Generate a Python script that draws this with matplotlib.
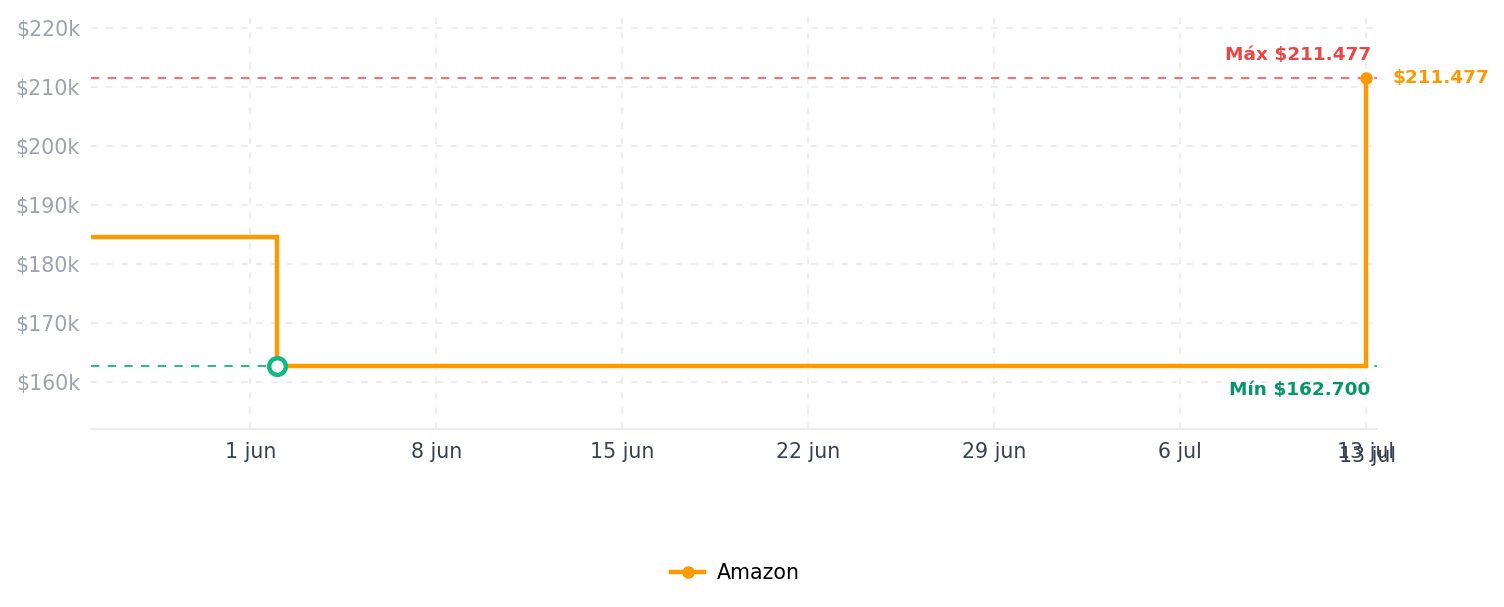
import matplotlib
matplotlib.use("Agg")
import matplotlib.pyplot as plt
import matplotlib.dates as mdates
import matplotlib.transforms as mtransforms
from datetime import datetime

# data
dates = [datetime(2025, 5, 26), datetime(2025, 6, 2), datetime(2025, 7, 13)]
prices = [184500, 162700, 211477]
tick_dates = [datetime(2025, 6, 1), datetime(2025, 6, 8), datetime(2025, 6, 15),
              datetime(2025, 6, 22), datetime(2025, 6, 29), datetime(2025, 7, 6),
              datetime(2025, 7, 13)]
tick_labels = ["1 jun", "8 jun", "15 jun", "22 jun", "29 jun", "6 jul", "13 jul"]
y_ticks = [160000, 170000, 180000, 190000, 200000, 210000, 220000]
y_labels = ["$160k", "$170k", "$180k", "$190k", "$200k", "$210k", "$220k"]

orange = "#ff9900"
max_v = max(prices)
min_v = min(prices)
i_min = prices.index(min_v)
i_max = prices.index(max_v)

fig = plt.figure(figsize=(15.04, 6.07), dpi=100)
ax = fig.add_axes([0.0605, 0.2932, 0.855, 0.682])

ax.axhline(max_v, color="#f87171", lw=1.5, ls=(0, (4, 4)), zorder=2)
ax.axhline(min_v, color="#34b98a", lw=1.5, ls=(0, (4, 4)), zorder=2)

ax.plot(dates, prices, drawstyle="steps-post", color=orange, lw=3.2, zorder=3,
        label="Amazon", marker="o", markersize=8, markevery=[len(dates) - 1],
        solid_joinstyle="miter")
ax.plot([dates[i_min]], [min_v], "o", ms=12, mfc="white", mec="#10b981", mew=3.2, zorder=4)

ax.set_xlim(datetime(2025, 5, 26), mdates.num2date(mdates.date2num(datetime(2025, 6, 1)) + 42.42))
ax.set_ylim(152000, 222200)

ax.set_xticks(tick_dates)
ax.set_xticklabels(tick_labels)
ax.set_yticks(y_ticks)
ax.set_yticklabels(y_labels)
ax.tick_params(axis="x", length=0, pad=9, labelsize=14.8, labelcolor="#374151")
ax.tick_params(axis="y", length=0, pad=8, labelsize=14.8, labelcolor="#9ca3af")

ax.grid(True, color="#ebebeb", ls=(0, (4, 5)), lw=1.2)
ax.set_axisbelow(True)
for s in ["top", "right", "left"]:
    ax.spines[s].set_visible(False)
ax.spines["bottom"].set_color("#e5e7eb")
ax.spines["bottom"].set_linewidth(1.2)

# duplicated last tick label, slightly offset
trans = mtransforms.blended_transform_factory(ax.transData, ax.transAxes)
off = mtransforms.ScaledTranslation(2 / 100, -16.5 / 100, fig.dpi_scale_trans)
ax.text(tick_dates[-1], 0, "13 jul", transform=trans + off, ha="center", va="top",
        fontsize=14.8, color="#374151")

# annotations
ax.text(dates[i_max], max_v, "Máx $211.477",
        transform=ax.transData + mtransforms.ScaledTranslation(0.05, 0.14, fig.dpi_scale_trans),
        ha="right", va="bottom", color="#ef4444", fontsize=13.3, fontweight="bold")
ax.text(dates[i_max], min_v, "Mín $162.700",
        transform=ax.transData + mtransforms.ScaledTranslation(0.05, -0.15, fig.dpi_scale_trans),
        ha="right", va="top", color="#059669", fontsize=13.3, fontweight="bold")
ax.text(dates[i_max], max_v, "$211.477",
        transform=ax.transData + mtransforms.ScaledTranslation(0.27, 0, fig.dpi_scale_trans),
        ha="left", va="center", color=orange, fontsize=13.3, fontweight="bold")

fig.legend(loc="center", bbox_to_anchor=(0.489, 0.056), frameon=False,
           fontsize=14.8, handlelength=1.6, handletextpad=0.6)

fig.savefig("out.png", dpi=100)
